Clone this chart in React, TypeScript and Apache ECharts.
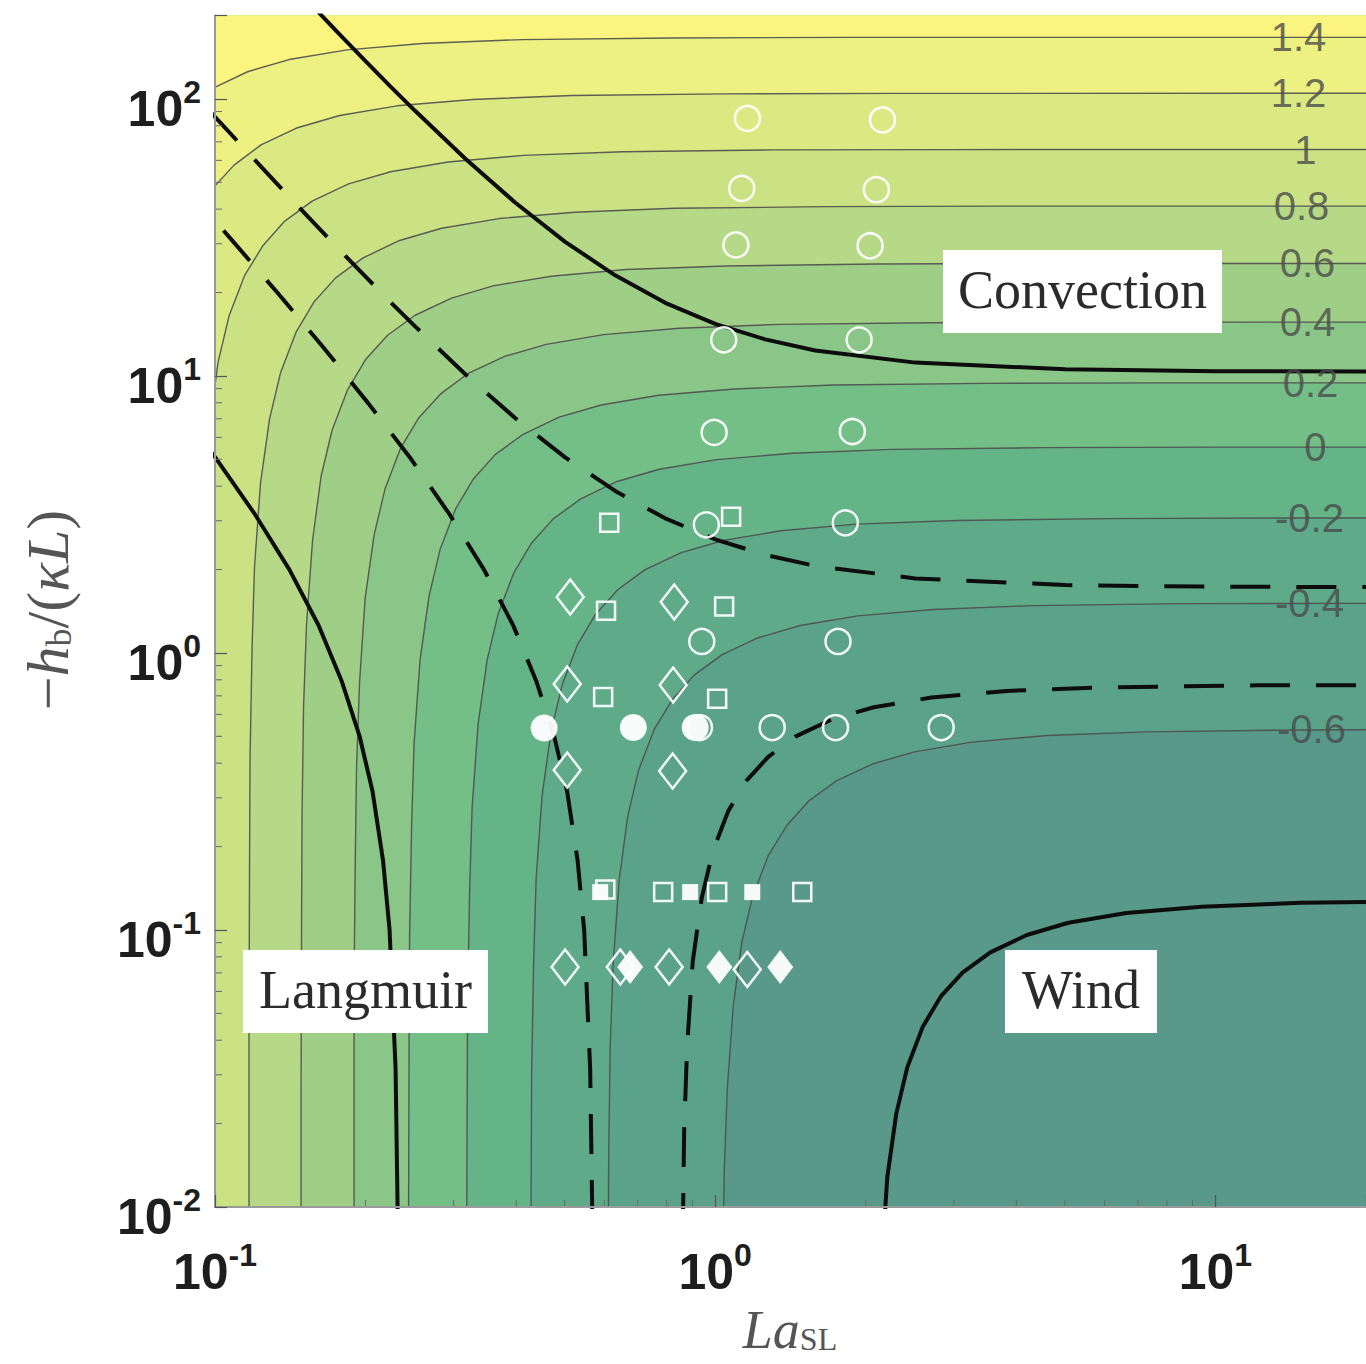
import React, { useEffect, useRef } from 'react';
import * as echarts from 'echarts';

// ---------------- axes ----------------
const X_MIN = 0.1;
const X_MAX = 20;
const Y_MIN = 0.01;
const Y_MAX = 200;
const X_MINOR_TICKS = [0.2, 0.3, 0.4, 0.5, 0.6, 0.7, 0.8, 0.9, 2, 3, 4, 5, 6, 7, 8, 9];
const Y_MINOR_TICKS = [
  0.02, 0.03, 0.04, 0.05, 0.06, 0.07, 0.08, 0.09,
  0.2, 0.3, 0.4, 0.5, 0.6, 0.7, 0.8, 0.9,
  2, 3, 4, 5, 6, 7, 8, 9,
  20, 30, 40, 50, 60, 70, 80, 90,
];

// ---------------- contour levels ----------------
const LEVELS = [-0.6, -0.4, -0.2, 0, 0.2, 0.4, 0.6, 0.8, 1, 1.2, 1.4];
const LEVEL_TEXT = ['-0.6', '-0.4', '-0.2', '0', '0.2', '0.4', '0.6', '0.8', '1', '1.2', '1.4'];
const BASE_COLOR = '#58998a';
const BAND_COLORS = ['#5aa28a', '#5eaa89', '#65b488', '#74be88', '#89c687', '#9fcf86', '#b5d986', '#cae184', '#dbe983', '#ecf182', '#fbf47f'];

// contour traces, as [log10 La_SL, log10(-h_b/(kappa L))]
const CONTOUR_M06 = [[0.013,-4],[0.013,-3.276],[0.014,-2.674],[0.015,-2.276],[0.018,-1.878],[0.024,-1.577],[0.036,-1.276],[0.053,-1.046],[0.075,-0.878],[0.106,-0.732],[0.143,-0.623],[0.186,-0.536],[0.241,-0.463],[0.314,-0.401],[0.398,-0.357],[0.513,-0.322],[0.663,-0.298],[0.862,-0.285],[1.163,-0.278],[1.513,-0.276],[3,-0.276]];
const CONTOUR_M04 = [[-0.215,-4],[-0.215,-2.82],[-0.214,-2.218],[-0.213,-1.82],[-0.21,-1.422],[-0.204,-1.121],[-0.192,-0.82],[-0.175,-0.59],[-0.153,-0.422],[-0.122,-0.276],[-0.085,-0.167],[-0.042,-0.08],[0.013,-0.007],[0.086,0.055],[0.17,0.099],[0.285,0.134],[0.436,0.157],[0.635,0.171],[0.936,0.178],[1.285,0.179],[3,0.18]];
const CONTOUR_M02 = [[-0.369,-4],[-0.369,-2.513],[-0.368,-1.911],[-0.367,-1.513],[-0.363,-1.115],[-0.358,-0.814],[-0.346,-0.513],[-0.328,-0.283],[-0.306,-0.115],[-0.275,0.031],[-0.239,0.14],[-0.195,0.228],[-0.141,0.3],[-0.068,0.362],[0.016,0.406],[0.131,0.441],[0.282,0.465],[0.481,0.478],[0.782,0.485],[1.131,0.487],[3,0.487]];
const CONTOUR_P00 = [[-0.497,-4],[-0.497,-2.257],[-0.496,-1.655],[-0.495,-1.257],[-0.491,-0.859],[-0.486,-0.558],[-0.474,-0.257],[-0.456,-0.026],[-0.434,0.141],[-0.403,0.288],[-0.367,0.397],[-0.324,0.484],[-0.269,0.556],[-0.196,0.619],[-0.112,0.663],[0.003,0.698],[0.154,0.721],[0.353,0.735],[0.654,0.741],[1.003,0.743],[3,0.743]];
const CONTOUR_P02 = [[-0.613,-4],[-0.613,-2.024],[-0.612,-1.422],[-0.611,-1.024],[-0.607,-0.627],[-0.602,-0.326],[-0.59,-0.024],[-0.572,0.206],[-0.55,0.373],[-0.519,0.52],[-0.483,0.629],[-0.44,0.716],[-0.385,0.788],[-0.312,0.851],[-0.228,0.895],[-0.113,0.93],[0.038,0.953],[0.237,0.967],[0.538,0.973],[0.887,0.975],[3,0.975]];
const CONTOUR_P04 = [[-0.722,-4],[-0.722,-1.805],[-0.722,-1.203],[-0.72,-0.805],[-0.717,-0.408],[-0.711,-0.106],[-0.7,0.195],[-0.682,0.425],[-0.66,0.593],[-0.629,0.739],[-0.593,0.848],[-0.549,0.935],[-0.495,1.008],[-0.422,1.07],[-0.338,1.114],[-0.223,1.149],[-0.072,1.172],[0.127,1.186],[0.428,1.192],[0.778,1.194],[3,1.195]];
const CONTOUR_P06 = [[-0.828,-4],[-0.828,-1.594],[-0.827,-0.992],[-0.826,-0.594],[-0.823,-0.196],[-0.817,0.105],[-0.805,0.406],[-0.788,0.637],[-0.766,0.804],[-0.735,0.95],[-0.699,1.059],[-0.655,1.147],[-0.6,1.219],[-0.527,1.281],[-0.444,1.325],[-0.328,1.36],[-0.178,1.384],[0.021,1.397],[0.322,1.404],[0.672,1.406],[3,1.406]];
const CONTOUR_P08 = [[-0.932,-4],[-0.932,-1.387],[-0.931,-0.785],[-0.93,-0.387],[-0.926,0.011],[-0.921,0.312],[-0.909,0.613],[-0.891,0.844],[-0.869,1.011],[-0.838,1.158],[-0.802,1.267],[-0.759,1.354],[-0.704,1.426],[-0.631,1.489],[-0.547,1.533],[-0.432,1.568],[-0.281,1.591],[-0.082,1.605],[0.219,1.611],[0.568,1.613],[3,1.613]];
const CONTOUR_P10 = [[-1.034,-4],[-1.034,-1.182],[-1.033,-0.58],[-1.032,-0.182],[-1.029,0.216],[-1.023,0.517],[-1.011,0.818],[-0.994,1.048],[-0.972,1.216],[-0.941,1.362],[-0.904,1.471],[-0.861,1.558],[-0.806,1.631],[-0.733,1.693],[-0.649,1.737],[-0.534,1.772],[-0.384,1.796],[-0.185,1.809],[0.116,1.816],[0.466,1.817],[3,1.818]];
const CONTOUR_P12 = [[-1.135,-4],[-1.135,-0.979],[-1.135,-0.377],[-1.133,0.021],[-1.13,0.419],[-1.124,0.72],[-1.113,1.021],[-1.095,1.251],[-1.073,1.419],[-1.042,1.565],[-1.006,1.674],[-0.962,1.761],[-0.908,1.834],[-0.835,1.896],[-0.751,1.94],[-0.636,1.975],[-0.485,1.998],[-0.286,2.012],[0.015,2.018],[0.365,2.02],[3,2.021]];
const CONTOUR_P14 = [[-1.236,-4],[-1.236,-0.778],[-1.236,-0.176],[-1.234,0.222],[-1.231,0.62],[-1.225,0.921],[-1.214,1.222],[-1.196,1.453],[-1.174,1.62],[-1.143,1.767],[-1.107,1.876],[-1.063,1.963],[-1.008,2.035],[-0.935,2.098],[-0.852,2.142],[-0.736,2.177],[-0.586,2.2],[-0.387,2.214],[-0.086,2.22],[0.264,2.222],[3,2.222]];
const CONTOURS = [CONTOUR_M06, CONTOUR_M04, CONTOUR_M02, CONTOUR_P00, CONTOUR_P02, CONTOUR_P04, CONTOUR_P06, CONTOUR_P08, CONTOUR_P10, CONTOUR_P12, CONTOUR_P14];

// contour label anchors [log10 La, log10 H]
const LABEL_ANCHORS = [[1.192,-0.276],[1.188,0.179],[1.188,0.487],[1.2,0.743],[1.19,0.975],[1.184,1.194],[1.184,1.406],[1.172,1.613],[1.18,1.817],[1.166,2.02],[1.166,2.222]];

// regime boundaries (solid: 90 %, dashed: 60 %), [log10 La, log10 H]
const LANG_SOLID = [[-0.633,-3],[-0.635,-2],[-0.639,-1.5],[-0.651,-1],[-0.664,-0.75],[-0.685,-0.5],[-0.711,-0.3],[-0.747,-0.1],[-0.793,0.1],[-0.851,0.3],[-0.92,0.5],[-0.997,0.7],[-1.082,0.9]];
const LANG_DASHED = [[-0.244,-3],[-0.246,-2],[-0.25,-1.5],[-0.262,-1],[-0.275,-0.75],[-0.296,-0.5],[-0.322,-0.3],[-0.358,-0.1],[-0.404,0.1],[-0.462,0.3],[-0.531,0.5],[-0.608,0.7],[-0.693,0.9],[-0.782,1.1],[-0.875,1.3],[-0.971,1.5],[-1.068,1.7]];
const CONV_SOLID = [[-0.85,2.421],[-0.8,2.326],[-0.75,2.231],[-0.7,2.138],[-0.65,2.046],[-0.6,1.957],[-0.5,1.785],[-0.4,1.626],[-0.3,1.484],[-0.2,1.363],[-0.1,1.264],[0,1.188],[0.1,1.132],[0.2,1.092],[0.4,1.048],[0.7,1.024],[1,1.017],[1.5,1.015],[3,1.015]];
const CONV_DASHED = [[-1.1,2.131],[-1,1.935],[-0.9,1.74],[-0.85,1.643],[-0.8,1.548],[-0.75,1.453],[-0.7,1.36],[-0.65,1.268],[-0.6,1.179],[-0.5,1.007],[-0.4,0.848],[-0.3,0.706],[-0.2,0.585],[-0.1,0.486],[0,0.41],[0.1,0.354],[0.2,0.314],[0.4,0.269],[0.7,0.245],[1,0.239],[1.5,0.237],[3,0.237]];
const WIND_SOLID = [[0.322,-4],[0.322,-3.893],[0.322,-3.291],[0.324,-2.893],[0.327,-2.496],[0.333,-2.194],[0.344,-1.893],[0.362,-1.663],[0.384,-1.496],[0.415,-1.349],[0.451,-1.24],[0.495,-1.153],[0.55,-1.081],[0.623,-1.018],[0.706,-0.974],[0.822,-0.939],[0.972,-0.916],[1.171,-0.902],[1.472,-0.896],[1.822,-0.894],[3,-0.893]];
const WIND_DASHED = [[-0.068,-4],[-0.068,-3.115],[-0.067,-2.513],[-0.065,-2.115],[-0.062,-1.717],[-0.056,-1.416],[-0.045,-1.115],[-0.027,-0.885],[-0.005,-0.717],[0.026,-0.571],[0.062,-0.462],[0.106,-0.375],[0.16,-0.302],[0.233,-0.24],[0.317,-0.196],[0.432,-0.161],[0.583,-0.137],[0.782,-0.124],[1.083,-0.117],[1.432,-0.116],[3,-0.115]];

// LES cases [La_SL, -h_b/(kappa L)]
const OPEN_CIRCLES = [[1.16,85],[2.16,84],[1.13,47.5],[2.1,47],[1.1,29.7],[2.04,29.5],[1.04,13.5],[1.94,13.5],[0.995,6.25],[1.88,6.3],[0.96,2.9],[1.82,2.95],[0.94,1.1],[1.76,1.1],[0.93,0.538],[1.3,0.538],[1.74,0.538],[2.83,0.538]];
const FILLED_CIRCLES = [[0.455,0.536],[0.686,0.538],[0.912,0.538]];
const OPEN_SQUARES = [[0.614,2.95],[1.076,3.1],[0.605,1.42],[1.042,1.47],[0.597,0.694],[1.009,0.683],[0.603,0.14],[0.787,0.137],[1.009,0.137],[1.493,0.137]];
const FILLED_SQUARES = [[0.589,0.137],[0.891,0.137],[1.186,0.137]];
const OPEN_DIAMONDS = [[0.513,1.593],[0.828,1.528],[0.506,0.773],[0.824,0.766],[0.506,0.378],[0.822,0.375],[0.501,0.0735],[0.646,0.0735],[0.809,0.0735],[1.159,0.072]];
const FILLED_DIAMONDS = [[0.676,0.0735],[1.019,0.0735],[1.349,0.0735]];

// ---------------- helpers ----------------
const fromLog = (pts: number[][]) => pts.map(([x, y]) => [Math.pow(10, x), Math.pow(10, y)]);

const powLabel = (v: number) => {
  const e = Math.log10(v);
  const n = Math.round(e);
  if (Math.abs(e - n) > 1e-6) return '';
  return `{b|10}{s|${n}}`;
};

const tickRich = {
  b: { fontSize: 50, fontFamily: 'Liberation Sans', fontWeight: 'bold', color: '#1e1e1e', padding: [12, 0, 0, 0] },
  s: { fontSize: 32, fontFamily: 'Liberation Sans', fontWeight: 'bold', color: '#1e1e1e', padding: [0, 0, 22, 0] },
};

function buildOption() {
  const series: any[] = [];

  // filled bands
  series.push({
    type: 'custom',
    coordinateSystem: 'cartesian2d',
    clip: true,
    silent: true,
    z: 1,
    data: LEVELS.map((l) => [1, 1, l]),
    renderItem: (params: any, api: any) => {
      const i = params.dataIndex;
      const pts = fromLog(CONTOURS[i]).map((p) => api.coord(p));
      pts.push(api.coord([1e3, 1e5]), api.coord([1e-3, 1e5]), api.coord([1e-3, 1e-4]));
      return { type: 'polygon', shape: { points: pts }, style: { fill: BAND_COLORS[i], stroke: null } };
    },
  });

  // thin contour lines
  CONTOURS.forEach((c, i) => {
    series.push({
      type: 'line',
      name: 'contour ' + LEVEL_TEXT[i],
      data: fromLog(c),
      symbol: 'none',
      silent: true,
      clip: true,
      z: 3,
      lineStyle: { color: '#4e4e4e', width: 1.4, opacity: 0.9 },
    });
  });

  // regime boundaries
  const bold = (d: number[][], dashed: boolean, name: string) => ({
    type: 'line',
    name,
    data: fromLog(d),
    symbol: 'none',
    silent: true,
    clip: true,
    z: 4,
    lineStyle: { color: '#0d0d0d', width: 4, type: dashed ? [40, 26] : 'solid', cap: 'butt' },
  });
  series.push(bold(LANG_SOLID, false, 'Langmuir 90%'));
  series.push(bold(LANG_DASHED, true, 'Langmuir 60%'));
  series.push(bold(CONV_SOLID, false, 'Convection 90%'));
  series.push(bold(CONV_DASHED, true, 'Convection 60%'));
  series.push(bold(WIND_SOLID, false, 'Wind 90%'));
  series.push(bold(WIND_DASHED, true, 'Wind 60%'));

  // contour labels
  series.push({
    type: 'scatter',
    silent: true,
    z: 5,
    symbolSize: 1,
    itemStyle: { color: 'rgba(0,0,0,0)' },
    data: fromLog(LABEL_ANCHORS).map((p, i) => ({ value: p, name: LEVEL_TEXT[i] })),
    label: {
      show: true,
      position: 'inside',
      formatter: (p: any) => p.name,
      fontFamily: 'Liberation Sans',
      fontSize: 40,
      color: '#4a4a4a',
    },
  });

  // markers
  const mk = (d: number[][], symbol: string, size: any, filled: boolean, z: number) => ({
    type: 'scatter',
    silent: true,
    z,
    symbol,
    symbolSize: size,
    data: d,
    itemStyle: filled
      ? { color: '#ffffff', opacity: 0.95, borderWidth: 0 }
      : { color: 'rgba(0,0,0,0)', borderColor: '#ffffff', borderWidth: 2.5, opacity: 0.92 },
  });
  series.push(mk(OPEN_CIRCLES, 'circle', 25, false, 6));
  series.push(mk(OPEN_SQUARES, 'rect', 18, false, 6));
  series.push(mk(OPEN_DIAMONDS, 'diamond', [27, 35], false, 6));
  series.push(mk(FILLED_CIRCLES, 'circle', 27, true, 7));
  series.push(mk(FILLED_SQUARES, 'rect', 16, true, 7));
  series.push(mk(FILLED_DIAMONDS, 'diamond', [26, 34], true, 7));

  // minor ticks
  series.push({
    type: 'custom',
    coordinateSystem: 'cartesian2d',
    silent: true,
    z: 20,
    data: X_MINOR_TICKS.map((v) => [v, Y_MIN]),
    renderItem: (params: any, api: any) => {
      const p = api.coord([api.value(0), api.value(1)]);
      return { type: 'line', shape: { x1: p[0], y1: p[1], x2: p[0], y2: p[1] - 7 }, style: { stroke: '#6a6a6a', lineWidth: 1 } };
    },
  });
  series.push({
    type: 'custom',
    coordinateSystem: 'cartesian2d',
    silent: true,
    z: 20,
    data: Y_MINOR_TICKS.map((v) => [X_MIN, v]),
    renderItem: (params: any, api: any) => {
      const p = api.coord([api.value(0), api.value(1)]);
      return { type: 'line', shape: { x1: p[0], y1: p[1], x2: p[0] + 7, y2: p[1] }, style: { stroke: '#6a6a6a', lineWidth: 1 } };
    },
  });

  const box = (x: number, y: number, w: number, h: number, text: string) => [
    { type: 'rect', shape: { x, y, width: w, height: h }, style: { fill: '#ffffff' }, z: 100, silent: true },
    {
      type: 'text',
      x: x + w / 2,
      y: y + h / 2 - 2,
      z: 101,
      silent: true,
      style: { text, fontFamily: 'Liberation Serif', fontSize: 54, fill: '#2b2b2b', align: 'center', verticalAlign: 'middle' },
    },
  ];

  const serifRich = (size: number, drop: number) => ({
    i: { fontFamily: 'Liberation Serif', fontStyle: 'italic', fontSize: size, fill: '#555' },
    n: { fontFamily: 'Liberation Serif', fontSize: size, fill: '#555' },
    u: { fontFamily: 'Liberation Serif', fontSize: Math.round(size * 0.6), fill: '#555', padding: [drop, 0, 0, 0] },
  });

  return {
    animation: false,
    backgroundColor: '#ffffff',
    grid: {
      left: 215,
      right: 0,
      top: 15.5,
      bottom: 157,
      show: true,
      backgroundColor: BASE_COLOR,
      borderWidth: 0,
      containLabel: false,
      outerBoundsMode: 'none',
    },
    xAxis: {
      type: 'log',
      logBase: 10,
      min: X_MIN,
      max: X_MAX,
      z: 20,
      splitLine: { show: false },
      axisLine: { show: true, lineStyle: { color: '#9a9a9a', width: 2 } },
      axisTick: { show: true, inside: true, length: 12, lineStyle: { color: '#555', width: 1.2 } },
      axisLabel: { formatter: powLabel, margin: 20, padding: [8, 0, 0, 0], rich: tickRich },
    },
    yAxis: {
      type: 'log',
      logBase: 10,
      min: Y_MIN,
      max: Y_MAX,
      z: 20,
      splitLine: { show: false },
      axisLine: { show: true, lineStyle: { color: '#9a9a9a', width: 2 } },
      axisTick: { show: true, inside: true, length: 12, lineStyle: { color: '#555', width: 1.2 } },
      axisLabel: { formatter: powLabel, margin: 14, padding: [8, 0, 0, 0], rich: tickRich },
    },
    graphic: [
      ...box(943, 250, 279, 83, 'Convection'),
      ...box(243, 950, 245, 83, 'Langmuir'),
      ...box(1005, 950, 152, 83, 'Wind'),
      {
        type: 'text',
        x: 790,
        y: 1330,
        z: 100,
        silent: true,
        style: { text: '{i|La}{u|SL}', rich: serifRich(54, 18), align: 'center', verticalAlign: 'middle' },
      },
      {
        type: 'text',
        x: 48,
        y: 610,
        rotation: Math.PI / 2,
        z: 100,
        silent: true,
        style: { text: '{n|\u2212}{i|h}{u|b}{n|/(}{i|\u03baL}{n|)}', rich: serifRich(60, 22), align: 'center', verticalAlign: 'middle' },
      },
    ],
    series,
  };
}

export default function App() {
  const ref = useRef<HTMLDivElement>(null);
  useEffect(() => {
    if (!ref.current) return;
    const chart = echarts.init(ref.current, null, { renderer: 'svg' });
    chart.setOption(buildOption() as any);
    return () => chart.dispose();
  }, []);
  return <div ref={ref} style={{ position: 'fixed', left: 0, top: 0, width: 1366, height: 1364 }} />;
}
